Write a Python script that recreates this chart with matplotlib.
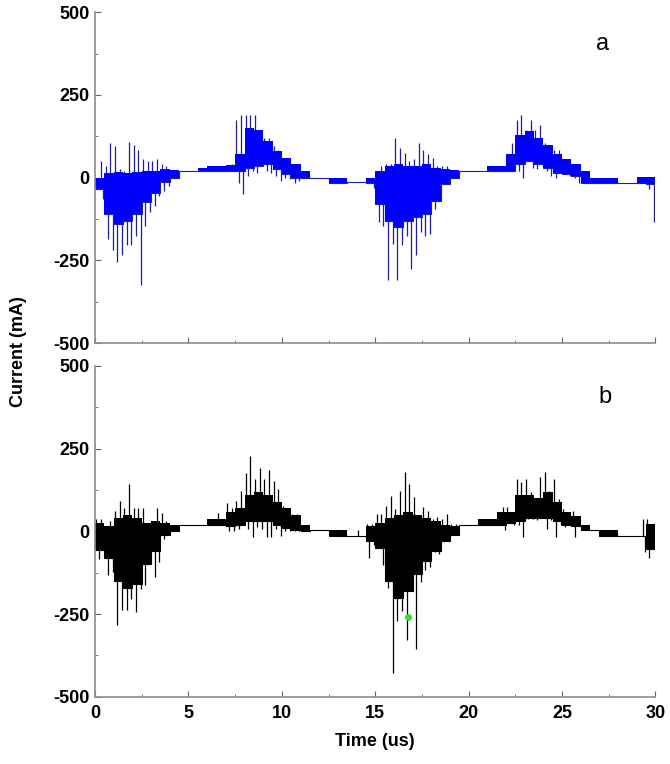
import numpy as np
import matplotlib.pyplot as plt
from matplotlib.ticker import MultipleLocator

plt.rcParams['font.family'] = ['Liberation Sans', 'DejaVu Sans']
plt.rcParams['font.weight'] = 'bold'
plt.rcParams['axes.labelweight'] = 'bold'
plt.rcParams['axes.unicode_minus'] = False

# spike extremes, one pair per 0.25 us bin (0 .. 30 us)
spike_hi_a = [0, 50, 35, 105, 95, 25, 20, 107, 100, 85,
              55, 50, 50, 55, 40, 35, 20, 20, 21, 21,
              21, 21, 21, 21, 21, 21, 21, 21, 21, 40,
              175, 190, 190, 190, 190, 125, 120, 120, 95, 85,
              60, 50, 40, 35, 20, 20, 0, 0, 0, 0,
              0, 0, 0, 0, -13, -13, -13, -13, 0, 0,
              -5, 35, 40, 40, 120, 90, 75, 50, 55, 105,
              85, 70, 60, 35, 35, 35, 20, 20, 20, 20,
              20, 20, 20, 20, 35, 35, 35, 35, 35, 105,
              175, 190, 145, 175, 145, 160, 105, 90, 85, 85,
              55, 55, 40, 20, 20, 20, 0, 0, 0, 0,
              0, 0, -15, -15, -15, -15, -15, 3, 3, 3]
spike_lo_a = [-25, -65, -185, -220, -255, -235, -205, -205, -175, -325,
              -145, -105, -85, -55, -40, -25, 0, 0, 21, 21,
              21, 21, 21, 21, 21, 21, 21, 21, 21, 20,
              -15, -50, 5, 20, 15, 35, 20, 15, 5, -10,
              0, -5, -15, -10, 0, 0, 0, 0, 0, 0,
              -15, -15, -15, -15, -13, -13, -13, -13, -15, -30,
              -135, -145, -310, -200, -310, -205, -175, -275, -235, -165,
              -175, -170, -95, -25, 5, 0, 0, 0, 20, 20,
              20, 20, 20, 20, 20, 20, 20, 20, 20, 20,
              20, 0, 50, 30, 25, 45, 20, 5, 0, 15,
              10, 5, 0, -15, -15, -15, -15, -15, -15, -15,
              -15, -15, -15, -15, -15, -15, -15, -15, -35, -135]

# dense core of the trace, one pair per 0.5 us bin
core_hi_a = [0, 15, 18, 15, 18, 20, 20, 25, 22, 21,
             21, 30, 35, 35, 38, 70, 150, 145, 110, 80,
             60, 40, 20, 0, 0, 0, 0, -13, -13, 0,
             20, 35, 40, 35, 35, 40, 30, 25, 22, 20,
             20, 20, 35, 35, 70, 130, 140, 120, 100, 70,
             55, 40, 20, 0, 0, 0, -15, -15, 3, 3]
core_lo_a = [-35, -110, -140, -130, -110, -75, -45, -12, 0, 21,
             21, 21, 21, 20, 20, 20, 30, 35, 40, 25,
             10, 0, 0, 0, 0, -15, -15, -13, -13, -15,
             -80, -130, -150, -130, -120, -110, -70, -20, 0, 20,
             20, 20, 20, 20, 20, 40, 50, 40, 30, 15,
             12, 5, -15, -15, -15, -15, -15, -15, -15, -20]

spike_hi_b = [37, 37, 17, 32, 62, 92, 72, 142, 72, 72,
              72, 12, 27, 72, 57, 32, 19, 19, 19, 19,
              19, 19, 19, 19, 37, 37, 57, 37, 87, 72,
              92, 122, 177, 227, 157, 192, 157, 187, 152, 127,
              77, 72, 52, 52, 19, 19, 3, 3, 3, 3,
              3, 3, 3, 3, -14, -14, 3, -14, 23, 23,
              53, 53, 78, 108, 68, 123, 178, 143, 103, 48,
              73, 63, 38, 43, 38, 53, 23, 23, 20, 20,
              20, 20, 38, 38, 38, 38, 38, 73, 73, 58,
              158, 148, 158, 118, 98, 163, 178, 123, 158, 98,
              68, 58, 63, 45, 20, 20, 3, 3, 3, 3,
              3, 3, -14, -14, -14, -14, -14, 38, 38, 23]
spike_lo_b = [-83, -53, -133, -123, -283, -238, -238, -203, -243, -173,
              -163, -83, -138, -93, -23, 2, 0, 0, 19, 19,
              19, 19, 19, 19, 19, 19, 19, 19, 2, 2,
              7, 37, 7, -18, 12, 7, -18, -18, 7, -13,
              2, 2, 2, 2, 2, 2, 3, 3, 3, 3,
              -14, -14, -14, -14, -14, -14, -14, -14, -82, -42,
              -42, -102, -172, -427, -272, -242, -327, -172, -357, -152,
              -117, -107, -62, -67, -22, -17, 3, 3, 20, 20,
              20, 20, 20, 20, 20, 20, 20, 3, 38, 18,
              18, -17, 38, 38, 33, 48, 8, 33, -17, 18,
              13, 23, -17, 15, 3, 3, 3, 3, -14, -14,
              -14, -14, -14, -14, -14, -14, -14, -62, -82, -52]

core_hi_b = [25, 15, 40, 50, 40, 25, 30, 25, 19, 19,
             19, 19, 37, 37, 60, 70, 110, 120, 110, 90,
             70, 50, 20, 3, 3, 3, 3, -14, -14, 15,
             25, 40, 50, 60, 50, 40, 30, 20, 15, 20,
             20, 38, 38, 60, 60, 110, 110, 100, 120, 90,
             60, 45, 20, 3, 3, 3, -14, -14, -14, 23]
core_lo_b = [-55, -80, -150, -170, -160, -100, -60, -10, 0, 19,
             19, 19, 19, 19, 15, 20, 30, 30, 30, 20,
             10, 5, 2, 3, 3, -14, -14, -14, -14, -30,
             -50, -150, -200, -180, -130, -90, -60, -30, -10, 20,
             20, 20, 20, 20, 25, 30, 40, 40, 40, 30,
             20, 15, 3, 3, -14, -14, -14, -14, -14, -52]

marker_t, marker_v = 16.77, -260

t_spk = np.arange(120) * 0.25
core_edges = np.arange(61) * 0.5


def draw_trace(ax, hi, lo, chi, clo, col, spike_col):
    hi, lo = np.array(hi), np.array(lo)
    chi, clo = np.array(chi), np.array(clo)
    # middle of the dense band, for each 0.25 us spike bin
    mid = np.repeat((chi + clo) / 2, 2)
    # up-going and down-going spikes, offset inside each bin
    ax.vlines(t_spk + 0.07, mid, hi, color=spike_col, lw=0.9, zorder=1)
    ax.vlines(t_spk + 0.19, lo, mid, color=spike_col, lw=0.9, zorder=1)
    # thin trace line where the signal is quiet
    ax.stairs(clo, core_edges, baseline=None, color=spike_col, lw=0.8, zorder=1)
    ax.stairs(chi, core_edges, baseline=clo, fill=True, color=col, lw=0, zorder=2)


def style(ax):
    ax.set_xlim(0, 30)
    ax.set_ylim(-500, 500)
    ax.spines[['top', 'right']].set_visible(False)
    for s in ['left', 'bottom']:
        ax.spines[s].set_color('#8c8c8c')
        ax.spines[s].set_linewidth(1.2)
    ax.xaxis.set_major_locator(MultipleLocator(5))
    ax.xaxis.set_minor_locator(MultipleLocator(2.5))
    ax.yaxis.set_major_locator(MultipleLocator(250))
    ax.yaxis.set_minor_locator(MultipleLocator(125))
    ax.tick_params(which='major', direction='in', length=4, color='#666666', labelsize=13)
    ax.tick_params(which='minor', direction='in', length=2.5, color='#666666')
    ax.tick_params(axis='y', pad=4)
    ax.tick_params(axis='x', pad=6)


fig = plt.figure(figsize=(6.7, 7.64), dpi=100)
ax_a = fig.add_axes([0.142, 0.551, 0.836, 0.433])
ax_b = fig.add_axes([0.142, 0.088, 0.836, 0.433])

draw_trace(ax_a, spike_hi_a, spike_lo_a, core_hi_a, core_lo_a, '#0000ff', '#1f1f99')
draw_trace(ax_b, spike_hi_b, spike_lo_b, core_hi_b, core_lo_b, '#000000', '#000000')
ax_b.plot(marker_t, marker_v, 'o', color='#33dd33', ms=4, zorder=3)

style(ax_a)
style(ax_b)
ax_a.tick_params(labelbottom=False)

ax_a.text(27.2, 405, 'a', fontsize=17, fontweight='normal', ha='center', va='center')
ax_b.text(27.3, 405, 'b', fontsize=17, fontweight='normal', ha='center', va='center')

ax_b.set_xlabel('Time (us)', fontsize=13, labelpad=8)
fig.text(0.027, 0.54, 'Current (mA)', rotation=90, ha='center', va='center', fontsize=13)

fig.savefig('out.png', dpi=100)
